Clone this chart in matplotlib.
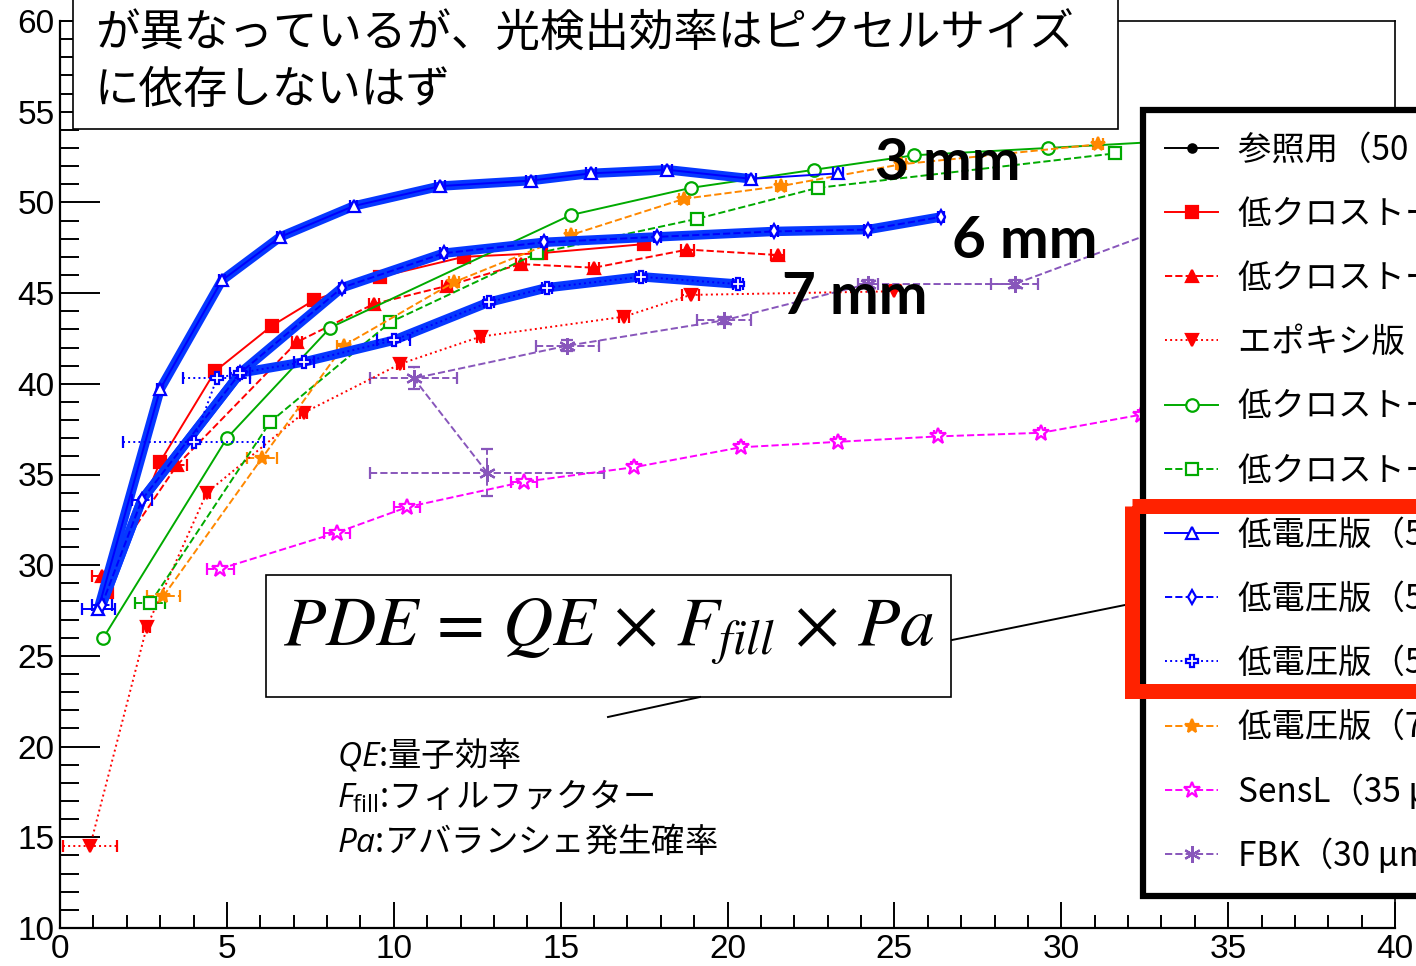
import matplotlib
matplotlib.use("Agg")
import matplotlib.pyplot as plt
import matplotlib.transforms as mtransforms
from matplotlib.patches import Rectangle
from matplotlib.lines import Line2D
from matplotlib.ticker import MultipleLocator

plt.rcParams['font.family'] = ['Liberation Sans', 'Noto Sans CJK JP', 'DejaVu Sans']
plt.rcParams['mathtext.fontset'] = 'custom'
plt.rcParams['mathtext.it'] = 'Open Sans:italic'
plt.rcParams['mathtext.rm'] = 'Open Sans'
JP = ['Noto Sans CJK JP', 'DejaVu Sans']

# ---- data : PDE [%] vs over-voltage [V] ----
ref_x = []
ref_y = []

lowct_a_x = [1.4, 3.0, 4.65, 6.35, 7.6, 9.6, 12.1, 14.4, 17.5]
lowct_a_y = [28.5, 35.7, 40.7, 43.2, 44.6, 45.9, 47.0, 47.2, 47.7]

lowct_b_x = [1.25, 3.5, 7.1, 9.4, 11.6, 13.8, 16.0, 18.8, 21.5]
lowct_b_y = [29.4, 35.5, 42.3, 44.4, 45.4, 46.6, 46.4, 47.4, 47.1]
lowct_b_xe = [0.3, 0.3, 0.15, 0.15, 0.15, 0.15, 0.15, 0.2, 0.2]

epoxy_x = [0.9, 2.6, 4.4, 7.3, 10.2, 12.6, 16.9, 18.9, 25.0]
epoxy_y = [14.5, 26.6, 34.0, 38.4, 41.1, 42.6, 43.7, 44.9, 45.1]
epoxy_xe = [0.8, 0.1, 0.1, 0.1, 0.1, 0.1, 0.15, 0.25, 0.2]

lowct_c_x = [1.3, 5.0, 8.1, 15.3, 18.9, 22.6, 25.6, 29.6, 33.5]
lowct_c_y = [26.0, 37.0, 43.1, 49.3, 50.8, 51.8, 52.6, 53.0, 53.4]

lowct_d_x = [2.7, 6.3, 9.9, 14.3, 19.1, 22.7, 31.6]
lowct_d_y = [27.9, 37.9, 43.4, 47.2, 49.1, 50.8, 52.7]
lowct_d_xe = [0.45, 0.1, 0.1, 0.1, 0.1, 0.15, 0.1]

lv3_x = [1.15, 3.0, 4.85, 6.6, 8.8, 11.4, 14.1, 15.9, 18.2, 20.7, 23.3]
lv3_y = [27.6, 39.7, 45.7, 48.1, 49.8, 50.9, 51.2, 51.6, 51.8, 51.3, 51.6]
lv3_xe = [0.5, 0.1, 0.1, 0.1, 0.1, 0.15, 0.15, 0.15, 0.15, 0.15, 0.15]

lv6_x = [1.25, 2.45, 5.4, 8.45, 11.5, 14.5, 17.9, 21.4, 24.2, 26.4]
lv6_y = [27.8, 33.6, 40.6, 45.3, 47.2, 47.8, 48.1, 48.4, 48.5, 49.2]
lv6_xe = [0.3, 0.3, 0.1, 0.1, 0.1, 0.1, 0.1, 0.1, 0.1, 0.1]

lv7_x = [4.0, 4.7, 5.4, 7.3, 10.0, 12.85, 14.6, 17.4, 20.3]
lv7_y = [36.8, 40.3, 40.6, 41.2, 42.4, 44.5, 45.3, 45.9, 45.5]
lv7_xe = [2.1, 1.0, 0.3, 0.3, 0.5, 0.15, 0.15, 0.15, 0.15]

lv75_x = [3.1, 6.05, 8.5, 11.8, 15.3, 18.7, 21.6, 25.2, 31.1]
lv75_y = [28.3, 35.9, 42.1, 45.6, 48.2, 50.2, 50.9, 52.1, 53.2]
lv75_xe = [0.5, 0.45, 0.2, 0.15, 0.15, 0.15, 0.15, 0.15, 0.15]

sensl_x = [4.8, 8.3, 10.4, 13.9, 17.2, 20.4, 23.3, 26.3, 29.4, 32.4]
sensl_y = [29.8, 31.8, 33.2, 34.6, 35.4, 36.5, 36.8, 37.1, 37.3, 38.3]
sensl_xe = [0.4, 0.4, 0.4, 0.4, 0.1, 0.1, 0.1, 0.1, 0.1, 0.1]

fbk_x = [12.8, 10.6, 15.2, 19.9, 24.2, 28.6, 33.0]
fbk_y = [35.1, 40.3, 42.1, 43.5, 45.5, 45.5, 48.5]
fbk_xe = [3.5, 1.3, 0.95, 0.8, 0.3, 0.7, 0.3]
fbk_ye = [1.3, 0.6, 0.3, 0.2, 0.2, 0.2, 0.2]

# thick guide lines for the three low-voltage sensor sizes
hl3_x = lv3_x[:10]
hl3_y = lv3_y[:10]
hl6_x = lv6_x
hl6_y = lv6_y
hl7_x = [1.25, 2.45, 5.4, 7.3, 10.0, 12.85, 14.6, 17.4, 20.3]
hl7_y = [27.8, 33.6, 40.6, 41.2, 42.4, 44.5, 45.3, 45.9, 45.5]

labels = ['参照用（50 μm）', '低クロストーク版（50 μm）', '低クロストーク版（75 μm）',
          'エポキシ版（50 μm）', '低クロストーク版（25 μm）', '低クロストーク版（15 μm）',
          '低電圧版（50 μm, 3 mm）', '低電圧版（50 μm, 6 mm）', '低電圧版（50 μm, 7 mm）',
          '低電圧版（75 μm）', 'SensL（35 μm）', 'FBK（30 μm (RGB-HD)）']

RED = '#ff0000'
GREEN = '#00aa00'
BLUE = '#0000ff'
ORANGE = '#ff8800'
MAGENTA = '#ff00ff'
PURPLE = '#8856bb'
THICK = '#0638ff'
ASTER = (6, 2, 0)

W, H = 1416, 966
fig = plt.figure(figsize=(W / 100, H / 100), dpi=100)
ax = fig.add_axes([60 / W, 1 - 928 / H, 1335 / W, 907 / H])
px = mtransforms.Affine2D().scale(1 / W, -1 / H).translate(0, 1) + fig.transFigure


def series(x, y, color, ls, marker, filled, xerr=None, yerr=None, ms=8, z=2):
    mfc = color if filled else 'white'
    eb = ax.errorbar(x, y, xerr=xerr, yerr=yerr, color=color, ls=ls, lw=1.4,
                     marker=marker, ms=ms, mfc=mfc, mec=color, mew=1.6,
                     capsize=4, elinewidth=1.4, capthick=1.4, zorder=z)
    for c in eb[2]:
        c.set_linestyle(ls)
    return Line2D([], [], color=color, ls=ls, lw=1.4, marker=marker, ms=ms,
                  mfc=mfc, mec=color, mew=1.6)


handles = [
    series(ref_x, ref_y, 'black', '-', 'o', True, ms=6),
    series(lowct_a_x, lowct_a_y, RED, '-', 's', True),
    series(lowct_b_x, lowct_b_y, RED, '--', '^', True, xerr=lowct_b_xe),
    series(epoxy_x, epoxy_y, RED, ':', 'v', True, xerr=epoxy_xe),
    series(lowct_c_x, lowct_c_y, GREEN, '-', 'o', False, ms=9),
    series(lowct_d_x, lowct_d_y, GREEN, '--', 's', False, xerr=lowct_d_xe, ms=9),
    series(lv3_x, lv3_y, BLUE, '-', '^', False, xerr=lv3_xe, z=3),
    series(lv6_x, lv6_y, BLUE, '--', 'd', False, xerr=lv6_xe, ms=7, z=3),
    series(lv7_x, lv7_y, BLUE, ':', 'P', False, xerr=lv7_xe, ms=9, z=3),
    series(lv75_x, lv75_y, ORANGE, '--', '*', True, xerr=lv75_xe, ms=10),
    series(sensl_x, sensl_y, MAGENTA, '--', '*', False, xerr=sensl_xe, ms=12),
    series(fbk_x, fbk_y, PURPLE, '--', ASTER, True, xerr=fbk_xe, yerr=fbk_ye, ms=12),
]

for hx, hy in [(hl3_x, hl3_y), (hl6_x, hl6_y), (hl7_x, hl7_y)]:
    ax.plot(hx, hy, color=THICK, lw=6.8, solid_capstyle='round',
            solid_joinstyle='round', zorder=2.5)

ax.set_xlim(0, 40)
ax.set_ylim(10, 60)
ax.xaxis.set_major_locator(MultipleLocator(5))
ax.xaxis.set_minor_locator(MultipleLocator(1))
ax.yaxis.set_major_locator(MultipleLocator(5))
ax.yaxis.set_minor_locator(MultipleLocator(1))
ax.tick_params(axis='both', which='both', direction='in', width=1.4, labelsize=24)
ax.tick_params(axis='y', which='major', length=29, pad=4)
ax.tick_params(axis='y', which='minor', length=14)
ax.tick_params(axis='x', which='major', length=19, pad=4)
ax.tick_params(axis='x', which='minor', length=9.5)
for s in ['left', 'bottom']:
    ax.spines[s].set_linewidth(1.6)
for s in ['top', 'right']:
    ax.spines[s].set_linewidth(1.2)

# heading box at the top
fig.add_artist(Rectangle((73, -20), 1045, 149, transform=px, facecolor='white',
                         edgecolor='black', lw=1.2, zorder=4))
fig.text(95, 34, 'が異なっているが、光検出効率はピクセルサイズ', transform=px,
         family=JP, fontsize=32, va='center', zorder=5)
fig.text(95, 90, 'に依存しないはず', transform=px,
         family=JP, fontsize=32, va='center', zorder=5)

# size labels
for txt, cx, cy in [('3 mm', 948, 163), ('6 mm', 1025, 241), ('7 mm', 855, 297)]:
    fig.text(cx, cy, txt, transform=px, family=['Lato', 'DejaVu Sans'],
             fontweight='bold', fontsize=42, ha='center', va='center', zorder=5)

# formula box
fig.add_artist(Rectangle((266, 575), 685, 122, transform=px, facecolor='white',
                         edgecolor='black', lw=1.2, zorder=4))
fig.text(609, 632, r'$PDE\,=\,QE\,\times\,F_{fill}\,\times\,Pa$', transform=px,
         fontsize=50, math_fontfamily='stix', ha='center', va='center', zorder=5)
fig.add_artist(Line2D([952, 1125], [640, 605], transform=px, color='black', lw=1.4, zorder=4))
fig.add_artist(Line2D([700, 608], [697, 717], transform=px, color='black', lw=1.4, zorder=4))

for txt, cy in [(r'$QE$:量子効率', 755), (r'$F_{\mathrm{fill}}$:フィルファクター', 797),
                (r'$Pa$:アバランシェ発生確率', 842)]:
    fig.text(337, cy, txt, transform=px, family=JP, fontsize=24,
             math_fontfamily='custom', va='center', zorder=5)

leg = fig.legend(handles, labels, loc='upper left',
                 bbox_to_anchor=(1143 / W, 1 - 110 / H), bbox_transform=fig.transFigure,
                 prop={'family': JP, 'size': 24}, frameon=True, fancybox=False,
                 edgecolor='black', framealpha=1, borderpad=0.66, labelspacing=0.86,
                 handlelength=1.6, handletextpad=0.6, borderaxespad=0)
leg.get_frame().set_linewidth(4.5)
leg.set_zorder(6)

# highlight around the low-voltage entries
fig.add_artist(Rectangle((1132, 506), 400, 185, transform=px, fill=False,
                         edgecolor='#ff2200', lw=10.8, zorder=7))

fig.savefig('out.png', dpi=100)
